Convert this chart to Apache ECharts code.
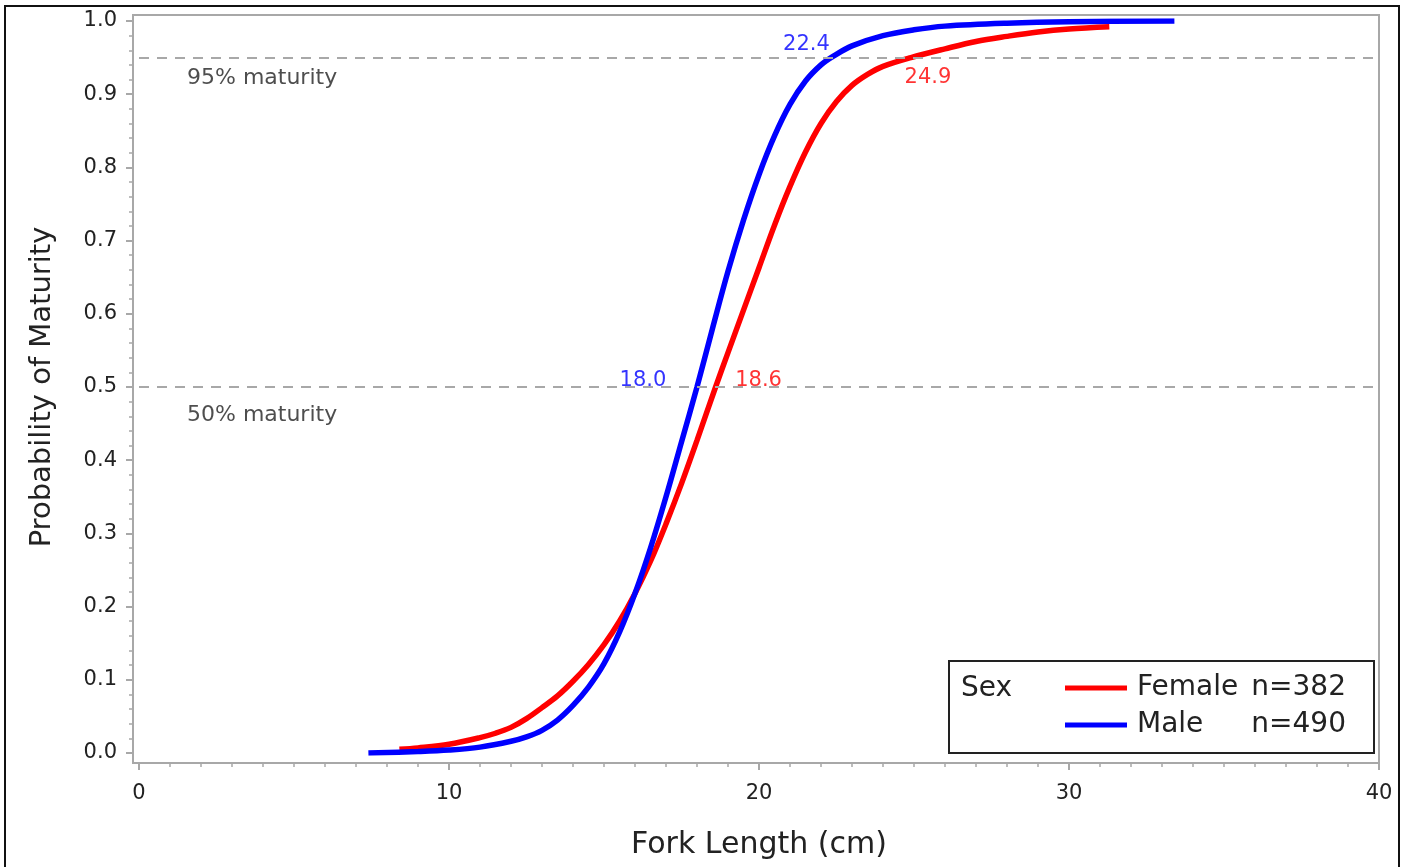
<!DOCTYPE html>
<html>
<head>
<meta charset="utf-8">
<script src="https://cdn.jsdelivr.net/npm/echarts@6/dist/echarts.min.js"></script>
<style>
html,body{margin:0;padding:0;background:#fff;}
#chart{width:1405px;height:867px;}
</style>
</head>
<body>
<div id="chart"></div>
<script>
// ---- data ----
const femaleX = [8.4, 9, 10, 11, 11.5, 12, 12.5, 13, 13.5, 14, 14.5, 15, 15.5, 16, 16.5, 17, 17.5, 18, 18.6, 19, 19.5, 20, 20.5, 21, 21.5, 22, 22.5, 23, 23.5, 24, 24.9, 26, 27, 28, 29, 30, 31.3];
const femaleP = [0.005, 0.007, 0.012, 0.021, 0.027, 0.035, 0.047, 0.062, 0.078, 0.098, 0.121, 0.148, 0.180, 0.218, 0.262, 0.313, 0.368, 0.427, 0.500, 0.547, 0.605, 0.663, 0.721, 0.774, 0.821, 0.860, 0.890, 0.912, 0.927, 0.938, 0.950, 0.962, 0.972, 0.979, 0.985, 0.989, 0.992];
const maleX = [7.4, 9, 10, 11, 12, 12.5, 13, 13.5, 14, 14.5, 15, 15.5, 16, 16.5, 17, 17.5, 18, 18.5, 19, 19.5, 20, 20.5, 21, 21.5, 22, 22.4, 23, 24, 25, 26, 28, 30, 33.4];
const maleP = [0.000, 0.002, 0.004, 0.008, 0.016, 0.022, 0.031, 0.045, 0.065, 0.090, 0.122, 0.165, 0.218, 0.280, 0.350, 0.425, 0.500, 0.580, 0.658, 0.728, 0.790, 0.843, 0.886, 0.918, 0.940, 0.952, 0.966, 0.980, 0.988, 0.993, 0.997, 0.999, 1.000];
const seriesNames = ['Female', 'Male'];
const seriesCounts = [382, 490];
const refLevels = [0.5, 0.95];
const refLabels = ['50% maturity', '95% maturity'];
const femaleMarks = [18.6, 24.9];   // length at 50% and 95% maturity
const maleMarks = [18.0, 22.4];
const xTicks = [0, 10, 20, 30, 40];
const yTicks = [0, 0.1, 0.2, 0.3, 0.4, 0.5, 0.6, 0.7, 0.8, 0.9, 1.0];

const FONT = 'DejaVu Sans';
const RED = '#ff0000', BLUE = '#0000ff', GRAY = '#a8a8a8', TXT = '#222222';

const chart = echarts.init(document.getElementById('chart'), null, {renderer: 'canvas'});

function pairs(xs, ys) { return xs.map((x, i) => [x, ys[i]]); }

const labelPos = {
  // offsets of numeric labels relative to their crossing point
  f50: [43, -6], f95: [17, 20], m50: [-54, -6], m95: [-27, -13]
};

const annot = [
  {value: [femaleMarks[0], refLevels[0]], text: femaleMarks[0].toFixed(1), color: RED, off: labelPos.f50},
  {value: [femaleMarks[1], refLevels[1]], text: femaleMarks[1].toFixed(1), color: RED, off: labelPos.f95},
  {value: [maleMarks[0], refLevels[0]], text: maleMarks[0].toFixed(1), color: BLUE, off: labelPos.m50},
  {value: [maleMarks[1], refLevels[1]], text: maleMarks[1].toFixed(1), color: BLUE, off: labelPos.m95}
];

const refTextOffsets = [[48, 28], [48, 21]];

const option = {
  animation: false,
  backgroundColor: '#fff',
  textStyle: {fontFamily: FONT},
  grid: {left: 139, right: 26, top: 21, bottom: 114, containLabel: false, outerBoundsMode: 'none'},
  xAxis: {
    type: 'value', min: xTicks[0], max: xTicks[xTicks.length - 1], interval: 10,
    offset: 10,
    name: 'Fork Length (cm)', nameLocation: 'middle', nameGap: 67,
    nameTextStyle: {fontFamily: FONT, fontSize: 30, color: TXT},
    axisLine: {show: true, onZero: false, lineStyle: {color: GRAY, width: 2}},
    axisTick: {show: true, length: 7, lineStyle: {color: GRAY, width: 2}},
    minorTick: {show: true, splitNumber: 10, length: 4, lineStyle: {color: GRAY, width: 1.5}},
    axisLabel: {fontFamily: FONT, fontSize: 21, color: TXT, margin: 20},
    splitLine: {show: false}
  },
  yAxis: {
    type: 'value', min: yTicks[0], max: yTicks[yTicks.length - 1], interval: 0.1,
    offset: 6,
    name: 'Probability of Maturity', nameLocation: 'middle', nameGap: 76,
    nameTextStyle: {fontFamily: FONT, fontSize: 29, color: TXT},
    axisLine: {show: true, onZero: false, lineStyle: {color: GRAY, width: 2}},
    axisTick: {show: true, length: 7, lineStyle: {color: GRAY, width: 2}},
    minorTick: {show: true, splitNumber: 5, length: 4, lineStyle: {color: GRAY, width: 1.5}},
    axisLabel: {fontFamily: FONT, fontSize: 21, color: TXT, margin: 16, formatter: v => v.toFixed(1)},
    splitLine: {show: false}
  },
  legend: {
    orient: 'vertical', left: 949, top: 661,
    padding: [9, 28, 10, 116],
    borderColor: '#222', borderWidth: 2,
    itemWidth: 62, itemHeight: 5, itemGap: 1,
    icon: 'rect',
    data: seriesNames,
    textStyle: {fontFamily: FONT, fontSize: 28, color: TXT, lineHeight: 36,
      rich: {
        a: {fontFamily: FONT, fontSize: 28, color: TXT, width: 112, padding: [0, 0, 0, 5], lineHeight: 36},
        b: {fontFamily: FONT, fontSize: 28, color: TXT, width: 97, align: 'right', lineHeight: 36}
      }
    },
    formatter: name => `{a|${name}}{b|n=${seriesCounts[seriesNames.indexOf(name)]}}`
  },
  series: [
    {
      name: 'Female', type: 'line', data: pairs(femaleX, femaleP),
      showSymbol: false, smooth: 0.35,
      lineStyle: {color: RED, width: 5.5}, itemStyle: {color: RED}, z: 3,
      markLine: {
        silent: true, symbol: 'none', label: {show: false},
        lineStyle: {color: GRAY, type: [10, 8], width: 2},
        data: refLevels.map(v => ({yAxis: v}))
      }
    },
    {
      name: 'Male', type: 'line', data: pairs(maleX, maleP),
      showSymbol: false, smooth: 0.35,
      lineStyle: {color: BLUE, width: 5.5}, itemStyle: {color: BLUE}, z: 4
    },
    {
      name: 'annot', type: 'scatter', symbolSize: 0, silent: true, z: 5,
      data: annot.map(a => ({
        value: a.value,
        label: {show: true, formatter: a.text, color: a.color, fontFamily: FONT, fontSize: 21,
          position: a.off, align: 'center', verticalAlign: 'middle'}
      }))
    },
    {
      name: 'refText', type: 'scatter', symbolSize: 0, silent: true, z: 5,
      data: refLevels.map((v, i) => ({
        value: [xTicks[0], v],
        label: {show: true, formatter: refLabels[i], color: TXT, fontFamily: FONT, fontSize: 22,
          position: refTextOffsets[i], align: 'left', verticalAlign: 'middle'}
      }))
    }
  ],
  graphic: [
    {type: 'rect', shape: {x: 133, y: 15, width: 1246, height: 748}, silent: true, z: -1,
      style: {fill: 'none', stroke: GRAY, lineWidth: 2}},
    {type: 'rect', shape: {x: 5, y: 6, width: 1394, height: 870}, silent: true, z: -1,
      style: {fill: 'none', stroke: '#111', lineWidth: 2}},
    {type: 'text', left: 961, top: 675, silent: true, z: 10,
      style: {text: 'Sex', font: `28px "${FONT}"`, fill: TXT}}
  ]
};
chart.setOption(option);
</script>
</body>
</html>
